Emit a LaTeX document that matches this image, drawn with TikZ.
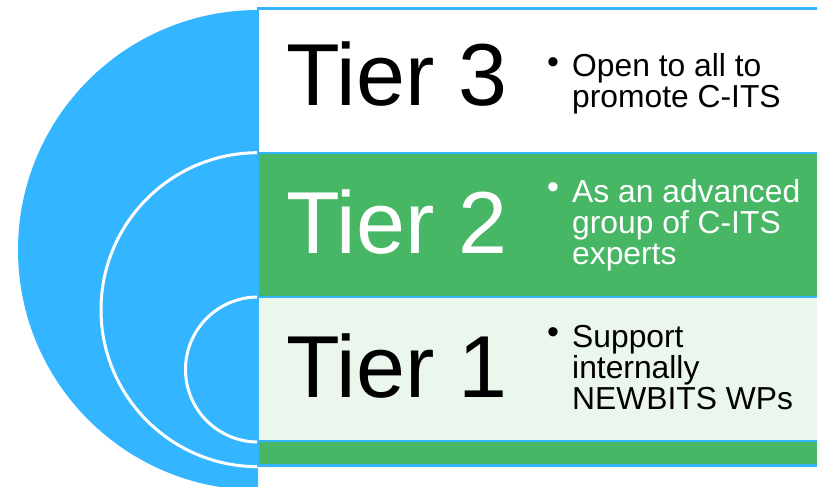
\documentclass[tikz,border=0pt]{standalone}
\usepackage{fontspec}
\setmainfont{Liberation Sans}
\definecolor{cblue}{RGB}{51,182,255}
\definecolor{cgreen}{RGB}{72,183,101}
\definecolor{clight}{RGB}{235,246,237}
\tikzset{
  tierbox/.style={draw=cblue, line width=2.5pt},
  tiertext/.style={font=\fontsize{88}{88}\selectfont, inner sep=0pt, anchor=base west},
  bullettext/.style={font=\fontsize{31.8}{31}\selectfont, inner sep=0pt, anchor=base west, align=left},
  bulletmark/.style={font=\fontsize{34}{34}\selectfont, inner sep=0pt, anchor=center},
  ring/.style={draw=white, line width=3pt}
}
\begin{document}
\begin{tikzpicture}[x=1pt,y=-1pt]
\useasboundingbox (0,0) rectangle (817,487);
\begin{scope}
  \clip (0,0) rectangle (258,487);
  \fill[cblue] (258,250) circle[radius=240pt];
  \draw[ring] (258,309.7) circle[radius=157pt];
  \draw[ring] (258,369.5) circle[radius=72.5pt];
\end{scope}
\begin{scope}
  \clip (0,0) rectangle (817,487);
  \draw[tierbox, fill=white]  (258,8.7) rectangle (830,153);
  \draw[tierbox, fill=cgreen] (258,153) rectangle (830,297);
  \draw[tierbox, fill=clight] (258,297) rectangle (830,441);
  \draw[tierbox, fill=cgreen] (258,441) rectangle (830,465.5);
\end{scope}
\node[tiertext] (t3) at (286,106) {Tier 3};
\node[tiertext, text=white] (t2) at (286,253) {Tier 2};
\node[tiertext] (t1) at (286,397) {Tier 1};
\node[bulletmark] (d3) at (553,65.5) {•};
\node[bulletmark, text=white] (d2) at (553,190.7) {•};
\node[bulletmark] (d1) at (553,336) {•};
\node[bullettext] (b3) at (572,107.5) {Open to all to\\promote C-ITS};
\node[bullettext, text=white] (b2) at (572,264.3) {As an advanced\\group of C-ITS\\experts};
\node[bullettext] (b1) at (572,409.3) {Support\\internally\\NEWBITS WPs};
\end{tikzpicture}
\end{document}
